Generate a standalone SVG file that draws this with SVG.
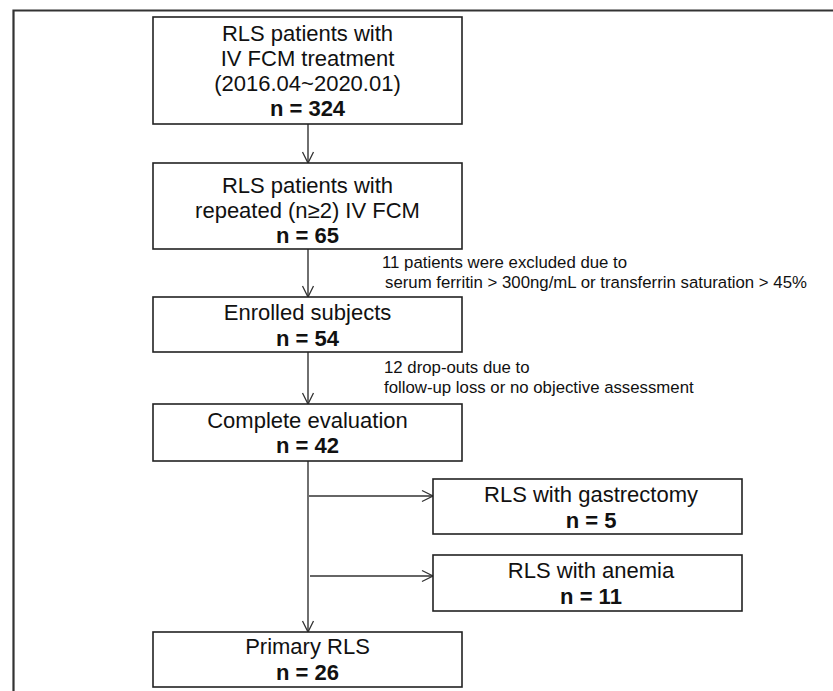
<svg xmlns="http://www.w3.org/2000/svg" width="833" height="691" viewBox="0 0 833 691">
  <defs>
    <marker id="arr" markerUnits="userSpaceOnUse" markerWidth="14" markerHeight="14" viewBox="0 0 14 14" refX="12" refY="7" orient="auto">
      <path d="M1,1.5 L12,7 L1,12.5" fill="none" stroke="#333" stroke-width="1.3"/>
    </marker>
  </defs>
  <style>
    .box { fill: #fff; stroke: #222; stroke-width: 1.6; }
    .t { font-family: "Liberation Sans", Arial, sans-serif; font-size: 22px; fill: #111; text-anchor: middle; }
    .b { font-weight: bold; }
    .note { font-family: "Liberation Sans", Arial, sans-serif; font-size: 16.8px; fill: #111; }
    .conn { stroke: #333; stroke-width: 1.4; fill: none; }
  </style>
  <rect width="833" height="691" fill="#fff"/>
  <path d="M13.5,691 V10.5 H833" fill="none" stroke="#333" stroke-width="2.2"/>

  <g id="connectors">
    <line class="conn" x1="308" y1="124" x2="308" y2="163" marker-end="url(#arr)"/>
    <line class="conn" x1="308" y1="249" x2="308" y2="297" marker-end="url(#arr)"/>
    <line class="conn" x1="308" y1="352" x2="308" y2="404" marker-end="url(#arr)"/>
    <line class="conn" x1="308" y1="461" x2="308" y2="632" marker-end="url(#arr)"/>
    <line class="conn" x1="309" y1="496" x2="433" y2="496" marker-end="url(#arr)"/>
    <line class="conn" x1="310" y1="576" x2="433" y2="576" marker-end="url(#arr)"/>
  </g>

  <g id="n1">
    <rect class="box" x="153" y="17" width="309" height="107"/>
    <text class="t" x="307.5" y="41">RLS patients with</text>
    <text class="t" x="307.5" y="66">IV FCM treatment</text>
    <text class="t" x="307.5" y="91">(2016.04~2020.01)</text>
    <text class="t b" x="307.5" y="116">n = 324</text>
  </g>
  <g id="n2">
    <rect class="box" x="153" y="163" width="309" height="86"/>
    <text class="t" x="307.5" y="193">RLS patients with</text>
    <text class="t" x="307.5" y="218">repeated (n≥2) IV FCM</text>
    <text class="t b" x="307.5" y="243">n = 65</text>
  </g>
  <g id="note1">
    <text class="note" x="382" y="268">11 patients were excluded due to</text>
    <text class="note" x="385" y="288">serum ferritin &gt; 300ng/mL or transferrin saturation &gt; 45%</text>
  </g>
  <g id="n3">
    <rect class="box" x="153" y="297" width="309" height="55"/>
    <text class="t" x="307.5" y="320">Enrolled subjects</text>
    <text class="t b" x="307.5" y="346">n = 54</text>
  </g>
  <g id="note2">
    <text class="note" x="384" y="373">12 drop-outs due to</text>
    <text class="note" x="384" y="393">follow-up loss or no objective assessment</text>
  </g>
  <g id="n4">
    <rect class="box" x="153" y="404" width="309" height="57"/>
    <text class="t" x="307.5" y="428">Complete evaluation</text>
    <text class="t b" x="307.5" y="453">n = 42</text>
  </g>
  <g id="n5">
    <rect class="box" x="433" y="479" width="309" height="55"/>
    <text class="t" x="591" y="502">RLS with gastrectomy</text>
    <text class="t b" x="591" y="528">n = 5</text>
  </g>
  <g id="n6">
    <rect class="box" x="433" y="555" width="309" height="56"/>
    <text class="t" x="591" y="578">RLS with anemia</text>
    <text class="t b" x="591" y="604">n = 11</text>
  </g>
  <g id="n7">
    <rect class="box" x="153" y="632" width="309" height="55"/>
    <text class="t" x="307.5" y="654">Primary RLS</text>
    <text class="t b" x="307.5" y="680">n = 26</text>
  </g>
</svg>
